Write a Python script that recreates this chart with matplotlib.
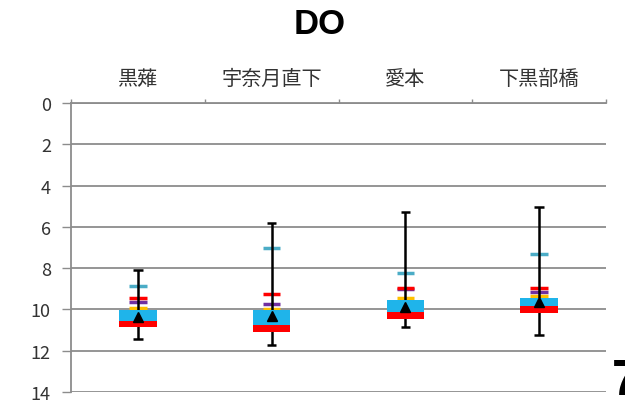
import matplotlib
matplotlib.use('Agg')
import matplotlib.pyplot as plt

plt.rcParams['font.family'] = ['Noto Sans CJK JP', 'DejaVu Sans']

# DO by station (axis inverted)
stations = ['黒薙', '宇奈月直下', '愛本', '下黒部橋']
whisker_min = [8.08, 5.83, 5.28, 5.02]
whisker_max = [11.43, 11.74, 10.87, 11.24]
box_top = [10.01, 10.03, 9.53, 9.45]
box_mid = [10.58, 10.76, 10.14, 9.85]
box_bottom = [10.84, 11.08, 10.47, 10.19]
mean_vals = [10.38, 10.33, 9.90, 9.63]
teal_marks = [8.85, 7.04, 8.25, 7.32]
purple_marks = [9.66, 9.75, 9.00, 9.16]
red_marks = [9.45, 9.25, 8.98, 8.95]
yellow_marks = [9.93, 9.98, 9.45, 9.34]

fig = plt.figure(figsize=(6.25, 4.06), dpi=100)
ax = fig.add_axes([71/625, 1 - 393/406, (606 - 71)/625, (393 - 104)/406])

x = list(range(len(stations)))
grid_col = '#8c8c8c'

# horizontal grid
for v in range(0, 15, 2):
    ax.axhline(v, color=grid_col, lw=1.3, zorder=0)

box_w = 0.28
mark_w = 0.13
cap_w = 0.07

# coloured markers
ax.hlines(teal_marks, [i - mark_w/2 for i in x], [i + mark_w/2 for i in x], color='#4bacc6', lw=2.5, zorder=2)
ax.hlines(purple_marks, [i - mark_w/2 for i in x], [i + mark_w/2 for i in x], color='#7030a0', lw=2.5, zorder=2)
ax.hlines(red_marks, [i - mark_w/2 for i in x], [i + mark_w/2 for i in x], color='#ff0000', lw=2.5, zorder=2)
ax.hlines(yellow_marks, [i - mark_w/2 for i in x], [i + mark_w/2 for i in x], color='#ffc000', lw=2.5, zorder=2)

# whiskers
ax.vlines(x, whisker_min, whisker_max, color='black', lw=1.8, zorder=3)
ax.hlines(whisker_min, [i - cap_w/2 for i in x], [i + cap_w/2 for i in x], color='black', lw=1.8, zorder=3)
ax.hlines(whisker_max, [i - cap_w/2 for i in x], [i + cap_w/2 for i in x], color='black', lw=1.8, zorder=3)

# boxes
cyan_h = [m - t for m, t in zip(box_mid, box_top)]
red_h = [b - m for b, m in zip(box_bottom, box_mid)]
ax.bar(x, cyan_h, bottom=box_top, width=box_w, color='#1fb4ea', zorder=4)
ax.bar(x, red_h, bottom=box_mid, width=box_w, color='#ff0000', zorder=4)

# mean
ax.plot(x, mean_vals, linestyle='none', marker='^', color='black', markersize=7, zorder=5)

ax.set_ylim(14, 0)
ax.set_xlim(-0.5, 3.5)
ax.set_yticks(range(0, 15, 2))

ax.xaxis.tick_top()
ax.set_xticks([-0.5, 0.5, 1.5, 2.5, 3.5])
ax.set_xticklabels([])
ax.set_xticks(x, minor=True)
ax.set_xticklabels(stations, minor=True)
ax.tick_params(axis='x', which='major', direction='out', length=3, color=grid_col, width=1)
ax.tick_params(axis='x', which='minor', length=0, pad=10, labelsize=14.5, labelcolor='#333333')
ax.tick_params(axis='y', direction='out', length=6.5, color=grid_col, width=1,
               pad=8, labelsize=13, labelcolor='#333333')

for s in ['right', 'bottom']:
    ax.spines[s].set_visible(False)
for s in ['left', 'top']:
    ax.spines[s].set_color(grid_col)
    ax.spines[s].set_linewidth(1.3)

fig.text(320/625, 1 - 25/406, 'DO', ha='center', va='center', fontsize=25,
         fontweight='bold', family='Liberation Sans')
fig.text(612/625, 1 - 395/406, '7', ha='left', va='baseline', fontsize=36,
         fontweight='bold', family='Liberation Sans')

fig.savefig('out.png', dpi=100)
